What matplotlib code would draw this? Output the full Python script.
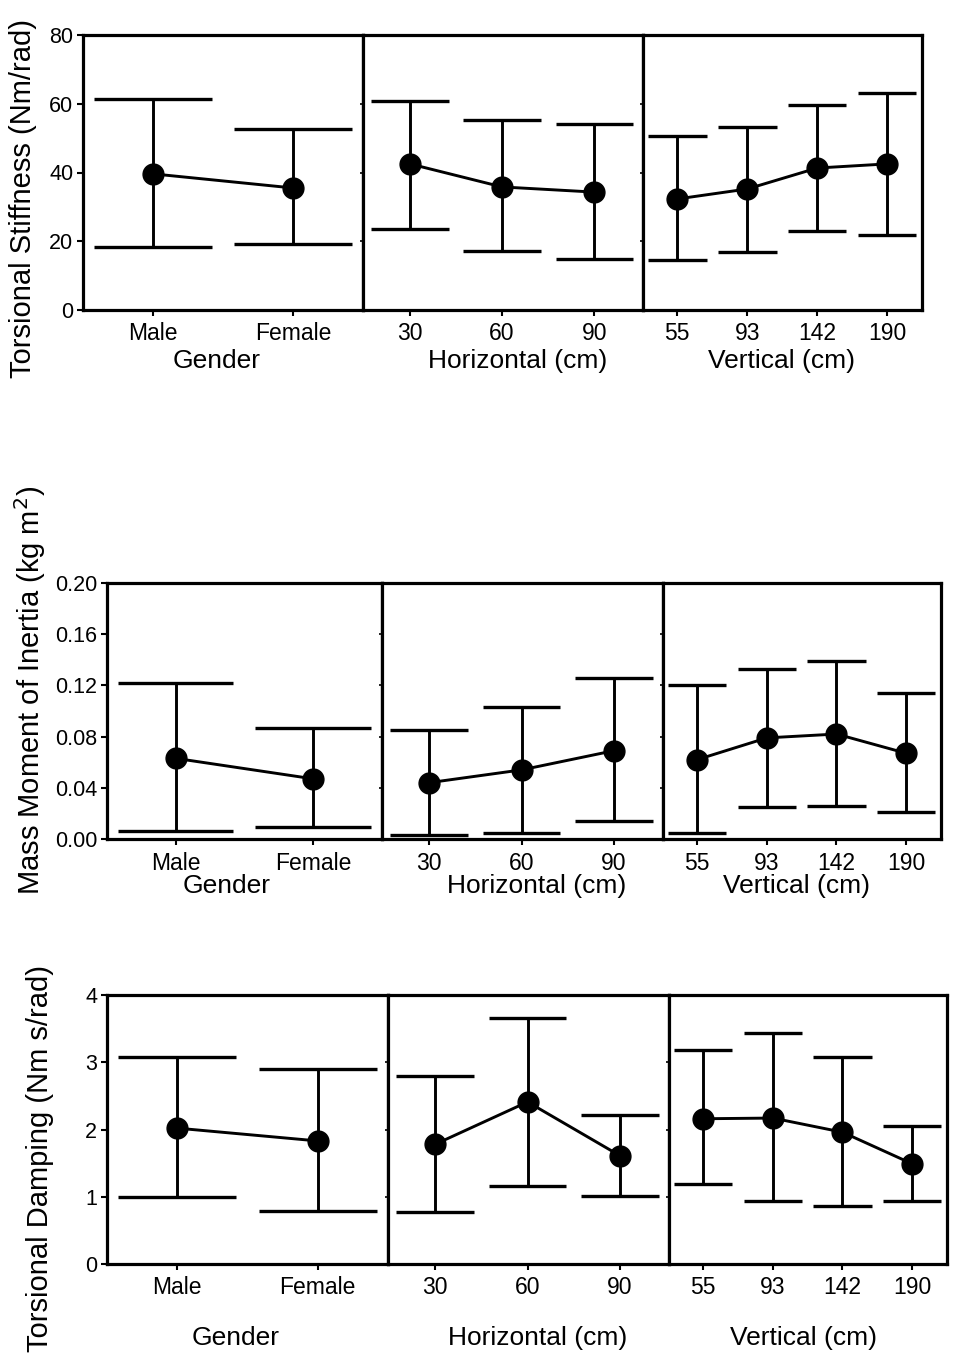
import matplotlib
matplotlib.use('Agg')
import matplotlib.pyplot as plt

plt.rcParams['font.family'] = ['Liberation Sans', 'DejaVu Sans']

# ---------------- data ----------------
gender_labels = ['Male', 'Female']
horizontal_labels = ['30', '60', '90']
vertical_labels = ['55', '93', '142', '190']

# Torsional stiffness (Nm/rad)
stiff_gender_mean = [39.6, 35.5]
stiff_gender_upper = [61.4, 52.7]
stiff_gender_lower = [18.3, 19.2]
stiff_horiz_mean = [42.5, 35.8, 34.3]
stiff_horiz_upper = [60.8, 55.3, 54.1]
stiff_horiz_lower = [23.6, 17.2, 14.8]
stiff_vert_mean = [32.3, 35.2, 41.3, 42.5]
stiff_vert_upper = [50.6, 53.2, 59.6, 63.1]
stiff_vert_lower = [14.5, 16.9, 23.0, 21.8]

# Mass moment of inertia (kg m^2)
inert_gender_mean = [0.063, 0.047]
inert_gender_upper = [0.122, 0.087]
inert_gender_lower = [0.006, 0.009]
inert_horiz_mean = [0.044, 0.054, 0.069]
inert_horiz_upper = [0.085, 0.103, 0.126]
inert_horiz_lower = [0.003, 0.005, 0.014]
inert_vert_mean = [0.062, 0.079, 0.082, 0.067]
inert_vert_upper = [0.120, 0.133, 0.139, 0.114]
inert_vert_lower = [0.005, 0.025, 0.026, 0.021]

# Torsional damping (Nm s/rad)
damp_gender_mean = [2.02, 1.83]
damp_gender_upper = [3.08, 2.90]
damp_gender_lower = [1.00, 0.79]
damp_horiz_mean = [1.78, 2.41, 1.61]
damp_horiz_upper = [2.80, 3.66, 2.22]
damp_horiz_lower = [0.78, 1.16, 1.01]
damp_vert_mean = [2.16, 2.17, 1.96, 1.49]
damp_vert_upper = [3.18, 3.43, 3.08, 2.05]
damp_vert_lower = [1.19, 0.94, 0.86, 0.94]

stiff_yticks = [0, 20, 40, 60, 80]
stiff_yticklabels = ['0', '20', '40', '60', '80']
inert_yticks = [0.00, 0.04, 0.08, 0.12, 0.16, 0.20]
inert_yticklabels = ['0.00', '0.04', '0.08', '0.12', '0.16', '0.20']
damp_yticks = [0, 1, 2, 3, 4]
damp_yticklabels = ['0', '1', '2', '3', '4']

# ---------------- layout ----------------
W, H = 954, 1354
fig = plt.figure(figsize=(W / 100, H / 100), dpi=100)

CAP = 0.42
LW = 2.1


def add_ax(x0, x1, ytop, ybot):
    return fig.add_axes([x0 / W, 1 - ybot / H, (x1 - x0) / W, (ybot - ytop) / H])


def draw_panel(ax, labels, mean, upper, lower, xlim, ylim, yticks, yticklabels, first):
    xs = list(range(len(labels)))
    ax.vlines(xs, lower, upper, colors='black', linewidth=LW)
    ax.hlines(upper, [x - CAP for x in xs], [x + CAP for x in xs], colors='black', linewidth=2.4)
    ax.hlines(lower, [x - CAP for x in xs], [x + CAP for x in xs], colors='black', linewidth=2.4)
    ax.plot(xs, mean, color='black', linewidth=LW, marker='o', markersize=15, zorder=5)
    ax.set_xlim(*xlim)
    ax.set_ylim(*ylim)
    ax.set_xticks(xs)
    ax.set_xticklabels(labels, fontsize=16.5)
    ax.set_yticks(yticks)
    if first:
        ax.set_yticklabels(yticklabels, fontsize=15.5)
        ax.tick_params(axis='y', direction='out', length=4, width=1.5, pad=3)
    else:
        ax.set_yticklabels([])
        ax.tick_params(axis='y', direction='out', length=2.5, width=1.2)
    ax.tick_params(axis='x', direction='out', length=4, width=1.5, pad=5)
    for s in ax.spines.values():
        s.set_linewidth(2.3)


rows = [
    dict(box=(83, 363, 643, 922, 35, 310), ylim=(0, 80), yt=stiff_yticks, ytl=stiff_yticklabels,
         data=[(stiff_gender_mean, stiff_gender_upper, stiff_gender_lower),
               (stiff_horiz_mean, stiff_horiz_upper, stiff_horiz_lower),
               (stiff_vert_mean, stiff_vert_upper, stiff_vert_lower)],
         xl=[(217, 361), (518, 361), (782, 361)], yl=(23, 199),
         ylabel='Torsional Stiffness (Nm/rad)'),
    dict(box=(107, 382, 663, 941, 583, 839), ylim=(0, 0.2), yt=inert_yticks, ytl=inert_yticklabels,
         data=[(inert_gender_mean, inert_gender_upper, inert_gender_lower),
               (inert_horiz_mean, inert_horiz_upper, inert_horiz_lower),
               (inert_vert_mean, inert_vert_upper, inert_vert_lower)],
         xl=[(227, 886), (537, 886), (797, 886)], yl=(30, 690),
         ylabel='Mass Moment of Inertia (kg m$^2$)'),
    dict(box=(107, 388, 669, 947, 995, 1264), ylim=(0, 4), yt=damp_yticks, ytl=damp_yticklabels,
         data=[(damp_gender_mean, damp_gender_upper, damp_gender_lower),
               (damp_horiz_mean, damp_horiz_upper, damp_horiz_lower),
               (damp_vert_mean, damp_vert_upper, damp_vert_lower)],
         xl=[(236, 1338), (538, 1338), (804, 1338)], yl=(40, 1158),
         ylabel='Torsional Damping (Nm s/rad)'),
]

group_labels = [gender_labels, horizontal_labels, vertical_labels]
group_xlims = [(-0.5, 1.5), (-0.51, 2.53), (-0.49, 3.5)]
group_titles = ['Gender', 'Horizontal (cm)', 'Vertical (cm)']

for row in rows:
    a, b, c, d, ytop, ybot = row['box']
    edges = [(a, b), (b, c), (c, d)]
    for i, ((x0, x1), (mean, up, lo)) in enumerate(zip(edges, row['data'])):
        ax = add_ax(x0, x1, ytop, ybot)
        draw_panel(ax, group_labels[i], mean, up, lo, group_xlims[i], row['ylim'],
                   row['yt'], row['ytl'], i == 0)
        tx, ty = row['xl'][i]
        fig.text(tx / W, 1 - ty / H, group_titles[i], fontsize=19, ha='center', va='center')
    lx, ly = row['yl']
    fig.text(lx / W, 1 - ly / H, row['ylabel'], fontsize=21, rotation=90, ha='center', va='center')

fig.savefig('out.png', dpi=100)
